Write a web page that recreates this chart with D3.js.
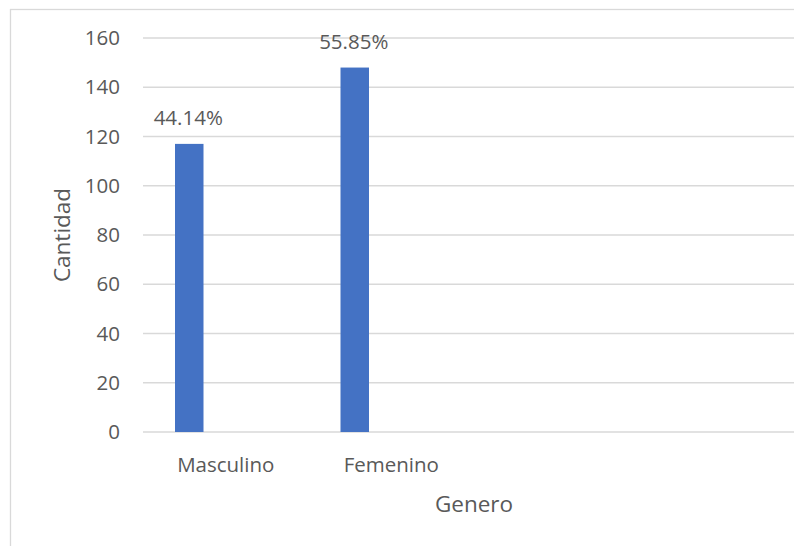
<!DOCTYPE html>
<html>
<head>
<meta charset="utf-8">
<script src="https://cdn.jsdelivr.net/npm/d3@7"></script>
<style>
    body { margin: 0; background: #fff; }
    svg { display: block; }
    text { font-family: "Open Sans", sans-serif; fill: #595959; }
</style>
</head>
<body>
<svg id="chart"></svg>
<script>
// Chart data
const categories = ["Masculino", "Femenino", "", " "];
const cantidad = [117, 148];
const porcentajes = ["44.14%", "55.85%"];
const yTicks = [0, 20, 40, 60, 80, 100, 120, 140, 160];

const width = 794;
const height = 546;

// Plot area (the right part of the chart is cropped in the original)
const plot = { left: 143, right: 805, top: 38, bottom: 432 };

const svg = d3.select("#chart")
    .attr("width", width)
    .attr("height", height);

// Chart border
svg.append("rect")
    .attr("x", 10.5)
    .attr("y", 9.5)
    .attr("width", 900)
    .attr("height", 600)
    .attr("fill", "none")
    .attr("stroke", "#d9d9d9")
    .attr("stroke-width", 1.3);

const x = d3.scaleBand()
    .domain(categories)
    .range([plot.left, plot.right]);

const y = d3.scaleLinear()
    .domain([0, 160])
    .range([plot.bottom, plot.top]);

// Gridlines
svg.append("g")
    .selectAll("line")
    .data(yTicks)
    .join("line")
    .attr("x1", plot.left)
    .attr("x2", plot.right)
    .attr("y1", d => y(d))
    .attr("y2", d => y(d))
    .attr("stroke", "#d9d9d9")
    .attr("stroke-width", 1.3);

// Y axis tick labels
const yAxis = svg.append("g")
    .attr("transform", `translate(${plot.left - 23},0)`)
    .call(d3.axisLeft(y).tickValues(yTicks).tickSize(0).tickPadding(0));
yAxis.select(".domain").remove();
yAxis.selectAll("text")
    .attr("font-size", 20.5)
    .attr("font-family", "'Open Sans', sans-serif")
    .attr("fill", "#595959");

// X axis category labels
const xAxis = svg.append("g")
    .attr("transform", `translate(0,${plot.bottom})`)
    .call(d3.axisBottom(x).tickSize(0).tickPadding(0));
xAxis.select(".domain").remove();
xAxis.selectAll("text")
    .attr("dy", null)
    .attr("y", 40)
    .attr("font-size", 20.5)
    .attr("font-family", "'Open Sans', sans-serif")
    .attr("fill", "#595959");

// Bars: single series, offset inside each category slot
const barOffset = 32;
const barWidth = 28.5;
const barData = cantidad.map((v, i) => ({ cat: categories[i], value: v, label: porcentajes[i] }));

svg.append("g")
    .selectAll("rect")
    .data(barData)
    .join("rect")
    .attr("x", d => x(d.cat) + barOffset)
    .attr("y", d => y(d.value))
    .attr("width", barWidth)
    .attr("height", d => y(0) - y(d.value))
    .attr("fill", "#4472c4");

// Data labels
svg.append("g")
    .selectAll("text")
    .data(barData)
    .join("text")
    .attr("x", d => x(d.cat) + barOffset + barWidth / 2 - 1)
    .attr("y", d => y(d.value) - 18.5)
    .attr("text-anchor", "middle")
    .attr("font-size", 20.5)
    .attr("fill", "#404040")
    .text(d => d.label);

// Axis titles
svg.append("text")
    .attr("x", (plot.left + plot.right) / 2)
    .attr("y", 512)
    .attr("text-anchor", "middle")
    .attr("font-size", 22.5)
    .text("Genero");

svg.append("text")
    .attr("transform", "translate(70,235) rotate(-90)")
    .attr("text-anchor", "middle")
    .attr("font-size", 22.5)
    .text("Cantidad");
</script>
</body>
</html>
